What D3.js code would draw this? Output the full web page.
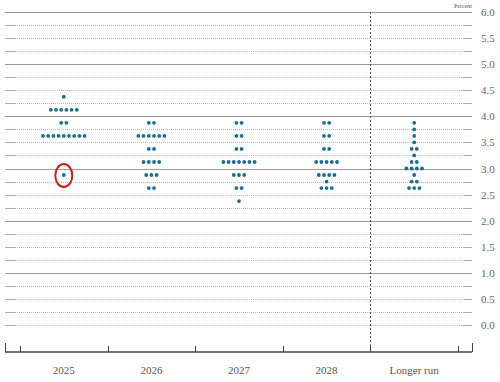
<!DOCTYPE html>
<html>
<head>
<meta charset="utf-8">
<script src="https://cdn.jsdelivr.net/npm/d3@7"></script>
<style>
  body { margin: 0; background: #fff; }
  svg { display: block; font-family: "Liberation Serif", "DejaVu Serif", serif; }
</style>
</head>
<body>
<svg id="canvas"></svg>
<script>
// ---------------- data ----------------
let categories = ['2025', '2026', '2027', '2028', 'Longer run']

// midpoint of target range and number of participants at that level
let rates2025 = [4.375, 4.125, 3.875, 3.625, 2.875]
let counts2025 = [1, 6, 2, 9, 1]

let rates2026 = [3.875, 3.625, 3.375, 3.125, 2.875, 2.625]
let counts2026 = [2, 6, 2, 4, 3, 2]

let rates2027 = [3.875, 3.625, 3.375, 3.125, 2.875, 2.625, 2.375]
let counts2027 = [2, 2, 2, 7, 3, 2, 1]

let rates2028 = [3.875, 3.625, 3.375, 3.125, 2.875, 2.75, 2.625]
let counts2028 = [2, 2, 2, 5, 4, 1, 3]

let ratesLonger = [3.875, 3.75, 3.625, 3.5, 3.375, 3.25, 3.125, 3.0, 2.875, 2.75, 2.625]
let countsLonger = [1, 1, 1, 1, 2, 1, 2, 4, 1, 2, 3]

let yTicks = [0, 0.5, 1, 1.5, 2, 2.5, 3, 3.5, 4, 4.5, 5, 5.5, 6]
let gridValues = d3.range(0, 6.001, 0.25)

// the highlighted dot (2025, 2.875)
let highlight = { category: '2025', rate: 2.875 }

// ---------------- layout ----------------
let width = 500
let height = 382
let left = 5
let right = 472
let axisY = 352

let canvas = d3.select('#canvas')
canvas.attr('width', width).attr('height', height)

let yScale = d3.scaleLinear().domain([0, 6]).range([325, 12])
let xScale = d3.scaleBand().domain(categories).range([20, 458]).padding(0)

let dotStep = 5.2
let dotColor = '#1b6c91'

// ---------------- grid ----------------
let grid = canvas.append('g')
gridValues.forEach(v => {
    let y = Math.round(yScale(v)) + 0.5
    let major = Math.abs(v - Math.round(v)) < 1e-6 && v > 0
    if (major) {
        grid.append('line')
            .attr('x1', left).attr('x2', right).attr('y1', y).attr('y2', y)
            .attr('stroke', '#9a9a9a').attr('stroke-width', 1.2)
    } else {
        grid.append('line')
            .attr('x1', left + 10).attr('x2', right - 9).attr('y1', y).attr('y2', y)
            .attr('stroke', '#b8b8b8').attr('stroke-width', 1)
            .attr('stroke-dasharray', '1,1')
        // short solid stubs at each end
        grid.append('line')
            .attr('x1', left).attr('x2', left + 10).attr('y1', y).attr('y2', y)
            .attr('stroke', '#aaa').attr('stroke-width', 1)
        grid.append('line')
            .attr('x1', right - 9).attr('x2', right).attr('y1', y).attr('y2', y)
            .attr('stroke', '#aaa').attr('stroke-width', 1)
    }
})

// right side labels
let yAxis = d3.axisRight(yScale)
    .tickValues(yTicks)
    .tickFormat(d3.format('.1f'))
    .tickSize(0)
    .tickPadding(0)

let yg = canvas.append('g')
    .attr('transform', 'translate(481, 0)')
    .call(yAxis)
yg.select('.domain').remove()
yg.selectAll('text')
    .attr('fill', '#666')
    .style('font-size', '11px')
    .style('font-family', '"Liberation Serif", "DejaVu Serif", serif')

canvas.append('text')
    .attr('x', right)
    .attr('y', 8)
    .attr('text-anchor', 'end')
    .attr('fill', '#555')
    .style('font-size', '6px')
    .text('Percent')

// divider before longer run
let divX = Math.round(xScale('Longer run')) + 0.5
canvas.append('line')
    .attr('x1', divX).attr('x2', divX)
    .attr('y1', yScale(6)).attr('y2', axisY)
    .attr('stroke', '#555').attr('stroke-width', 1)
    .attr('stroke-dasharray', '2,2')

// ---------------- bottom axis ----------------
let xAxis = d3.axisBottom(xScale).tickSize(0).tickPadding(14)
let xg = canvas.append('g')
    .attr('transform', 'translate(0,' + axisY + ')')
    .call(xAxis)
xg.select('.domain').remove()
xg.selectAll('text')
    .attr('fill', '#555')
    .style('font-size', '11px')
    .style('font-family', '"Liberation Serif", "DejaVu Serif", serif')

canvas.append('line')
    .attr('x1', left).attr('x2', right).attr('y1', axisY).attr('y2', axisY)
    .attr('stroke', '#444').attr('stroke-width', 1.3)

// boundary ticks between categories
let boundaries = categories.map(c => xScale(c)).concat([xScale.range()[1]])
canvas.selectAll('.btick')
    .data(boundaries)
    .enter()
    .append('line')
    .attr('class', 'btick')
    .attr('x1', d => Math.round(d) + 0.5).attr('x2', d => Math.round(d) + 0.5)
    .attr('y1', axisY - 6).attr('y2', axisY)
    .attr('stroke', '#444').attr('stroke-width', 1)

// outer edge ticks
canvas.selectAll('.etick')
    .data([left, right])
    .enter()
    .append('line')
    .attr('class', 'etick')
    .attr('x1', d => d + 0.5).attr('x2', d => d + 0.5)
    .attr('y1', axisY - 9).attr('y2', axisY)
    .attr('stroke', '#444').attr('stroke-width', 1)

// ---------------- dots ----------------
let series = [
    [rates2025, counts2025],
    [rates2026, counts2026],
    [rates2027, counts2027],
    [rates2028, counts2028],
    [ratesLonger, countsLonger]
]

let dots = []
series.forEach((s, ci) => {
    let cat = categories[ci]
    s[0].forEach((rate, ri) => {
        let n = s[1][ri]
        for (let k = 0; k < n; k++) {
            dots.push({ category: cat, rate: rate, offset: (k - (n - 1) / 2) * dotStep })
        }
    })
})

canvas.append('g')
    .selectAll('circle')
    .data(dots)
    .enter()
    .append('circle')
    .attr('cx', d => xScale(d.category) + xScale.bandwidth() / 2 + d.offset)
    .attr('cy', d => yScale(d.rate))
    .attr('r', 1.9)
    .attr('fill', dotColor)

// red ellipse around the highlighted dot
canvas.append('ellipse')
    .attr('cx', xScale(highlight.category) + xScale.bandwidth() / 2)
    .attr('cy', yScale(highlight.rate) + 0.5)
    .attr('rx', 8.5)
    .attr('ry', 11.5)
    .attr('fill', 'none')
    .attr('stroke', '#cc1f1f')
    .attr('stroke-width', 2)
</script>
</body>
</html>
